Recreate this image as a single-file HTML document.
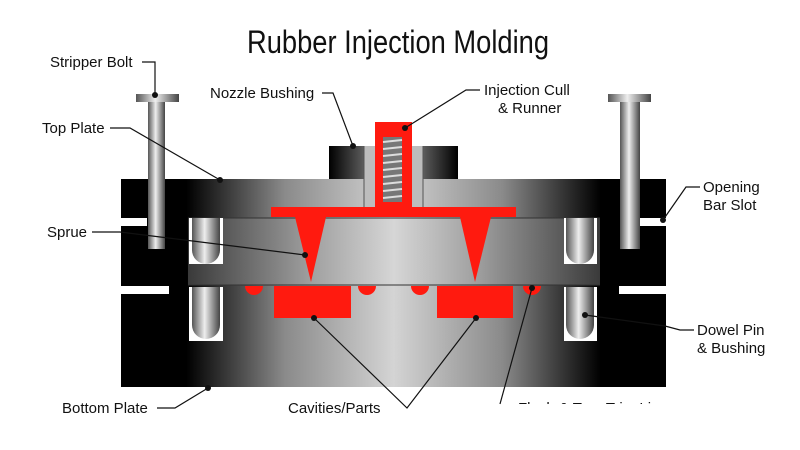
<!DOCTYPE html>
<html><head><meta charset="utf-8"><style>
html,body{margin:0;padding:0;background:#fff;}
svg{display:block;}
text{font-family:"Liberation Sans Narrow","Liberation Sans",sans-serif;fill:#111;}
</style></head><body>
<svg width="800" height="450" viewBox="0 0 800 450" xmlns="http://www.w3.org/2000/svg">
<defs>
<linearGradient id="pl" x1="121" y1="0" x2="666" y2="0" gradientUnits="userSpaceOnUse">
<stop offset="0" stop-color="#000"/><stop offset="0.12" stop-color="#000"/>
<stop offset="0.3" stop-color="#8a8a8a"/><stop offset="0.5" stop-color="#d4d4d4"/>
<stop offset="0.7" stop-color="#8a8a8a"/><stop offset="0.88" stop-color="#000"/><stop offset="1" stop-color="#000"/>
</linearGradient>
<linearGradient id="mid" x1="188" y1="0" x2="600" y2="0" gradientUnits="userSpaceOnUse">
<stop offset="0" stop-color="#3a3a3a"/><stop offset="0.3" stop-color="#a0a0a0"/><stop offset="0.5" stop-color="#d6d6d6"/><stop offset="0.7" stop-color="#a0a0a0"/><stop offset="1" stop-color="#3a3a3a"/>
</linearGradient>
<linearGradient id="rod" x1="0" y1="0" x2="1" y2="0">
<stop offset="0" stop-color="#555"/><stop offset="0.45" stop-color="#eee"/><stop offset="1" stop-color="#444"/>
</linearGradient>
<linearGradient id="nz" x1="329" y1="0" x2="458" y2="0" gradientUnits="userSpaceOnUse">
<stop offset="0" stop-color="#000"/><stop offset="0.25" stop-color="#555"/><stop offset="0.5" stop-color="#ccc"/><stop offset="0.75" stop-color="#555"/><stop offset="1" stop-color="#000"/>
</linearGradient>
<clipPath id="cl"><rect x="0" y="0" width="800" height="404"/></clipPath>
</defs>
<text x="398" y="53" font-size="32" text-anchor="middle" textLength="302" lengthAdjust="spacingAndGlyphs">Rubber Injection Molding</text>

<!-- plates -->
<rect x="121" y="179" width="545" height="208" fill="url(#pl)"/>
<rect x="188" y="218" width="412" height="67" fill="url(#mid)"/>
<line x1="188" y1="218" x2="600" y2="218" stroke="#333" stroke-width="1"/>
<line x1="188" y1="285" x2="600" y2="285" stroke="#333" stroke-width="1"/>
<!-- slots -->
<rect x="121" y="218" width="26" height="8" fill="#fff"/>
<rect x="121" y="286" width="48" height="8" fill="#fff"/>
<rect x="640" y="218" width="26" height="8" fill="#fff"/>
<rect x="619" y="286" width="47" height="8" fill="#fff"/>
<!-- dowel holes -->
<g>
<rect x="189" y="218" width="34" height="46" fill="#fff"/>
<path d="M192 218 V250 A14 14 0 0 0 220 250 V218Z" fill="url(#rod)"/>
<rect x="189" y="287" width="34" height="54" fill="#fff"/>
<path d="M192 287 V325 A14 14 0 0 0 220 325 V287Z" fill="url(#rod)"/>
<rect x="564" y="218" width="33" height="46" fill="#fff"/>
<path d="M566 218 V250 A14 14 0 0 0 594 250 V218Z" fill="url(#rod)"/>
<rect x="564" y="287" width="33" height="54" fill="#fff"/>
<path d="M566 287 V325 A14 14 0 0 0 594 325 V287Z" fill="url(#rod)"/>
</g>
<!-- stripper bolts -->
<rect x="136" y="94" width="43" height="8" fill="url(#rod)"/>
<rect x="148" y="102" width="17" height="147" fill="url(#rod)"/>
<rect x="608" y="94" width="43" height="8" fill="url(#rod)"/>
<rect x="620" y="102" width="20" height="147" fill="url(#rod)"/>
<!-- nozzle bushing -->
<rect x="329" y="146" width="129" height="33" fill="url(#nz)"/>
<rect x="364" y="146" width="59" height="61" fill="#bdbdbd"/>
<line x1="364" y1="146" x2="364" y2="207" stroke="#555"/><line x1="423" y1="146" x2="423" y2="207" stroke="#555"/>
<!-- red -->
<g fill="#ff1a0f">
<rect x="375" y="122" width="37" height="95"/>
<rect x="271" y="207" width="245" height="10"/>
<polygon points="295,217 326,217 311,282"/>
<polygon points="460,217 491,217 475,282"/>
<rect x="274" y="286" width="77" height="32"/>
<rect x="437" y="286" width="76" height="32"/>
<path d="M245 286 A9 9 0 0 0 263 286Z"/>
<path d="M358 286 A9 9 0 0 0 376 286Z"/>
<path d="M411 286 A9 9 0 0 0 429 286Z"/>
<path d="M523 286 A9 9 0 0 0 541 286Z"/>
</g>
<rect x="383" y="137" width="19" height="65" fill="#777"/>
<g stroke="#ddd" stroke-width="2">
<line x1="383" y1="142" x2="402" y2="140"/><line x1="383" y1="149" x2="402" y2="147"/><line x1="383" y1="156" x2="402" y2="154"/><line x1="383" y1="163" x2="402" y2="161"/><line x1="383" y1="170" x2="402" y2="168"/><line x1="383" y1="177" x2="402" y2="175"/><line x1="383" y1="184" x2="402" y2="182"/><line x1="383" y1="191" x2="402" y2="189"/><line x1="383" y1="198" x2="402" y2="196"/>
</g>

<!-- leaders -->
<g stroke="#111" stroke-width="1.2" fill="none">
<polyline points="142,62 155,62 155,95"/>
<polyline points="110,128 130,128 220,180"/>
<polyline points="92,232 120,232 305,255"/>
<polyline points="322,93 333,93 353,146"/>
<polyline points="480,90 466,90 405,128"/>
<polyline points="700,187 686,187 663,220"/>
<polyline points="694,330 680,330 665,326 585,315"/>
<polyline points="157,408 175,408 208,388"/>
<polyline points="314,318 407,408 476,318"/>
<polyline points="500,404 532,288"/>
</g>
<g fill="#111">
<circle cx="155" cy="95" r="3"/><circle cx="220" cy="180" r="3"/><circle cx="305" cy="255" r="3"/>
<circle cx="353" cy="146" r="3"/><circle cx="405" cy="128" r="3"/><circle cx="663" cy="220" r="3"/>
<circle cx="585" cy="315" r="3"/><circle cx="208" cy="388" r="3"/><circle cx="314" cy="318" r="3"/>
<circle cx="476" cy="318" r="3"/><circle cx="532" cy="288" r="3"/>
</g>
<g font-size="15">
<text x="50" y="67">Stripper Bolt</text>
<text x="42" y="133">Top Plate</text>
<text x="47" y="237">Sprue</text>
<text x="210" y="98">Nozzle Bushing</text>
<text x="484" y="95">Injection Cull</text>
<text x="498" y="113">&amp; Runner</text>
<text x="703" y="192">Opening</text>
<text x="703" y="210">Bar Slot</text>
<text x="697" y="335">Dowel Pin</text>
<text x="697" y="353">&amp; Bushing</text>
<text x="62" y="413">Bottom Plate</text>
<text x="288" y="413">Cavities/Parts</text>
<text x="518" y="413" clip-path="url(#cl)">Flash &amp; Tear Trim Line</text>
</g>
</svg>
</body></html>
